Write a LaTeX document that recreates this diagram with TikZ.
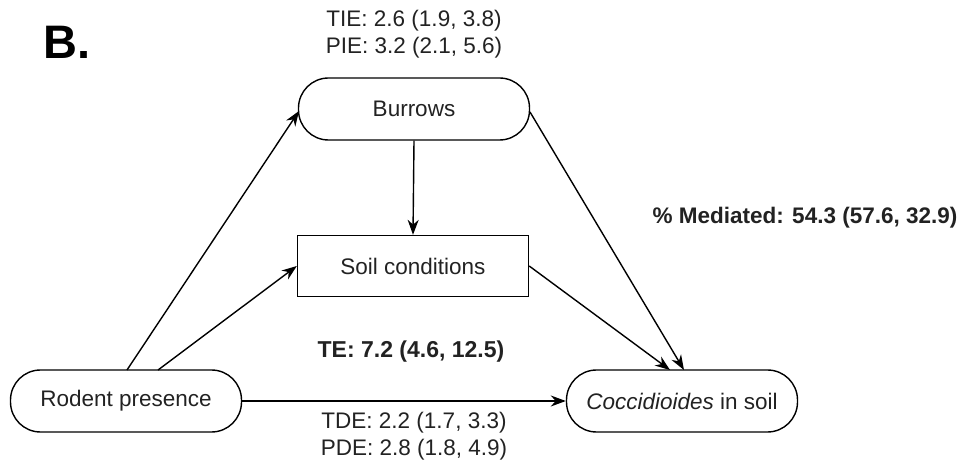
\documentclass[tikz,border=0pt]{standalone}
\usepackage{fontspec}
\setmainfont{Liberation Sans}
\usetikzlibrary{arrows.meta}
\definecolor{txt}{HTML}{222222}
\begin{document}
\begin{tikzpicture}[x=1pt,y=1pt,
  every node/.style={font=\fontsize{22.5}{27}\selectfont, text=txt},
  pill/.style={draw, line width=1.4pt, rounded corners=30pt, minimum width=231pt, minimum height=62pt, inner sep=0pt},
  sbox/.style={draw, line width=1.4pt, minimum width=231pt, minimum height=61pt, inner sep=0pt},
  conn/.style={line width=1.4pt, -{Stealth[length=15pt,width=11pt]}},
  lbl/.style={align=center, inner sep=0pt}
]
\useasboundingbox (0,0) rectangle (963,463);
\node[font=\bfseries\fontsize{47}{47}\selectfont, text=black] (B) at (67,421) {B.};
\node[pill] (bur) at (414,354) {Burrows};
\node[sbox] (soil) at (413,197) {Soil conditions};
\node[pill] (rod) at (126,62) {Rodent presence};
\node[pill] (coc) at (682,62) {\textit{Coccidioides} in soil};
\node[lbl] (tie) at (414,429) {TIE: 2.6 (1.9, 3.8)\\PIE: 3.2 (2.1, 5.6)};
\node[lbl, font=\bfseries\fontsize{22.5}{27}\selectfont] (med) at (805,245) {\% Mediated: 54.3 (57.6, 32.9)};
\node[lbl, font=\bfseries\fontsize{23}{27}\selectfont] (te) at (411,111) {TE: 7.2 (4.6, 12.5)};
\node[lbl] (tde) at (414,27) {TDE: 2.2 (1.7, 3.3)\\PDE: 2.8 (1.8, 4.9)};
\coordinate (r1) at (127,93);
\coordinate (r2) at (158,93);
\coordinate (b1) at (299,352);
\coordinate (b2) at (530,351);
\coordinate (c1) at (670,93);
\coordinate (c2) at (684,93);
\draw[conn] (r1) -- (b1);
\draw[conn] (r2) -- (soil.west);
\draw[conn] (rod.east) -- (coc.west);
\draw[conn] (bur.south) -- (soil.north);
\draw[conn] (soil.east) -- (c1);
\draw[conn] (b2) -- (c2);
\end{tikzpicture}
\end{document}
